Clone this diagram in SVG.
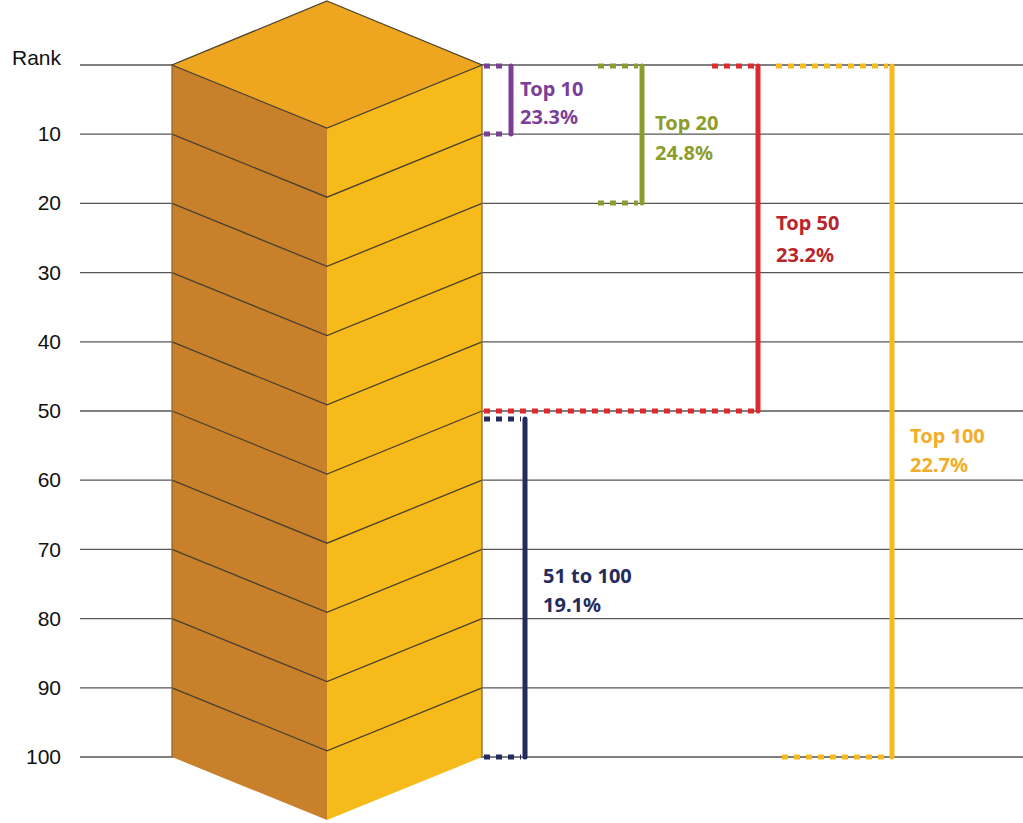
<svg xmlns="http://www.w3.org/2000/svg" width="1023" height="823" viewBox="0 0 1023 823">
<style>
.grid{stroke:#555;stroke-width:1.3}
.ax{font-family:"Liberation Sans",Arial,sans-serif;font-size:21px;fill:#111;text-anchor:end}
.lab{font-family:"Noto Sans","Liberation Sans",sans-serif;font-size:20px;font-weight:bold}
.dot{stroke-width:5;stroke-dasharray:6 6;fill:none}
.bar{stroke-width:5;stroke-linecap:round;fill:none}
.edge{stroke:#4a4030;stroke-width:1.3;fill:none}
</style>
<rect width="1023" height="823" fill="#fff"/>
<g id="grid">
<line class="grid" x1="80" y1="65" x2="1023" y2="65"/>
<line class="grid" x1="80" y1="134.2" x2="1023" y2="134.2"/>
<line class="grid" x1="80" y1="203.4" x2="1023" y2="203.4"/>
<line class="grid" x1="80" y1="272.6" x2="1023" y2="272.6"/>
<line class="grid" x1="80" y1="341.8" x2="1023" y2="341.8"/>
<line class="grid" x1="80" y1="411" x2="1023" y2="411"/>
<line class="grid" x1="80" y1="480.2" x2="1023" y2="480.2"/>
<line class="grid" x1="80" y1="549.4" x2="1023" y2="549.4"/>
<line class="grid" x1="80" y1="618.6" x2="1023" y2="618.6"/>
<line class="grid" x1="80" y1="687.8" x2="1023" y2="687.8"/>
<line class="grid" x1="80" y1="757" x2="1023" y2="757"/>
</g>
<g id="axis">
<text class="ax" x="61" y="65" >Rank</text>
<text class="ax" x="61" y="141">10</text>
<text class="ax" x="61" y="210">20</text>
<text class="ax" x="61" y="280">30</text>
<text class="ax" x="61" y="349">40</text>
<text class="ax" x="61" y="418">50</text>
<text class="ax" x="61" y="487">60</text>
<text class="ax" x="61" y="557">70</text>
<text class="ax" x="61" y="626">80</text>
<text class="ax" x="61" y="695">90</text>
<text class="ax" x="61" y="764">100</text>
</g>
<g id="tower">
<polygon points="172,65 327,128 327,820 172,757" fill="#c8812a"/>
<polygon points="327,128 482,65 482,757 327,820" fill="#f6bb1a"/>
<polygon points="327,1 482,65 327,128 172,65" fill="#eea620" class="edge" style="fill:#eea620"/>
<g class="edge">
<polyline points="172,134.2 327,197.2 482,134.2"/>
<polyline points="172,203.4 327,266.4 482,203.4"/>
<polyline points="172,272.6 327,335.6 482,272.6"/>
<polyline points="172,341.8 327,404.8 482,341.8"/>
<polyline points="172,411 327,474 482,411"/>
<polyline points="172,480.2 327,543.2 482,480.2"/>
<polyline points="172,549.4 327,612.4 482,549.4"/>
<polyline points="172,618.6 327,681.6 482,618.6"/>
<polyline points="172,687.8 327,750.8 482,687.8"/>
<line x1="172" y1="65" x2="172" y2="757" stroke="#8a6a30"/>
<line x1="482" y1="65" x2="482" y2="757" stroke="#8a6a30"/>
</g>
</g>
<g id="connectors">
<g stroke="#7b3f98"><path class="dot" d="M484 66H508M484 134H508"/><path class="bar" d="M511 66V134"/></g>
<g stroke="#8c9d2b"><path class="dot" d="M598 66H638M598 203H638"/><path class="bar" d="M642 66V203"/></g>
<g stroke="#dd2a2e"><path class="dot" d="M712 66H754M484 411H754"/><path class="bar" d="M758 66V411"/></g>
<g stroke="#f6ba1e"><path class="dot" d="M776 66H888M782 757H888"/><path class="bar" d="M892 66V757"/></g>
<g stroke="#252b5c"><path class="dot" d="M484 419H521M484 757H521"/><path class="bar" d="M525 419V757"/></g>
</g>
<g id="lab-top10" class="lab" fill="#7b3f98"><text x="520" y="96">Top 10</text><text x="520" y="124">23.3%</text></g>
<g id="lab-top20" class="lab" fill="#8c9d2b"><text x="655" y="130">Top 20</text><text x="655" y="160">24.8%</text></g>
<g id="lab-top50" class="lab" fill="#b8262c"><text x="776" y="230">Top 50</text><text x="776" y="262">23.2%</text></g>
<g id="lab-top100" class="lab" fill="#f2ad2a"><text x="910" y="443">Top 100</text><text x="910" y="472">22.7%</text></g>
<g id="lab-51" class="lab" fill="#252b5c"><text x="543" y="583">51 to 100</text><text x="543" y="612">19.1%</text></g>
</svg>
